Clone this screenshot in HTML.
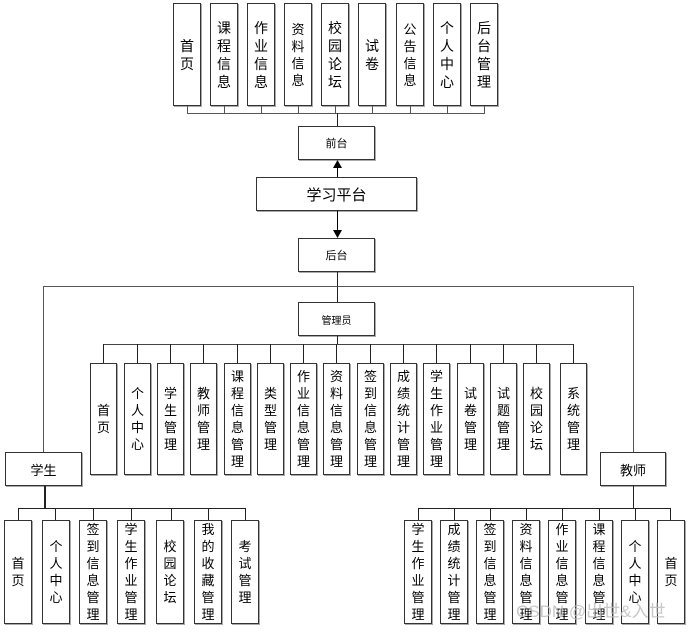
<!DOCTYPE html>
<html><head><meta charset="utf-8">
<style>
body{margin:0;background:#fff;}
#c{position:relative;width:692px;height:632px;overflow:hidden;background:#fff;font-family:"Liberation Sans","Noto Sans CJK SC","WenQuanYi Zen Hei",sans-serif;color:#000;}
.b{position:absolute;box-sizing:border-box;border:1px solid #333;background:#fff;box-shadow:1px 1px 0 #aaa;display:flex;align-items:center;justify-content:center;text-align:center;}
.v{font-size:14px;line-height:18px;}
.a{font-size:13px;line-height:17px;}
.h{position:absolute;height:1px;background:#222;}
.l{position:absolute;width:1px;background:#222;}
</style></head><body><div id="c">

<!-- top boxes -->
<div class="b v" style="left:173px;top:3px;width:28px;height:103px">首<br>页</div>
<div class="b v" style="left:210px;top:3px;width:28px;height:103px">课<br>程<br>信<br>息</div>
<div class="b v" style="left:247px;top:3px;width:28px;height:103px">作<br>业<br>信<br>息</div>
<div class="b v" style="left:284px;top:3px;width:28px;height:103px;font-size:13px;line-height:17px">资<br>料<br>信<br>息</div>
<div class="b v" style="left:321px;top:3px;width:28px;height:103px">校<br>园<br>论<br>坛</div>
<div class="b v" style="left:358px;top:3px;width:28px;height:103px">试<br>卷</div>
<div class="b v" style="left:396px;top:3px;width:28px;height:103px;font-size:13px;line-height:17px">公<br>告<br>信<br>息</div>
<div class="b v" style="left:433px;top:3px;width:28px;height:103px">个<br>人<br>中<br>心</div>
<div class="b v" style="left:470px;top:3px;width:28px;height:103px">后<br>台<br>管<br>理</div>
<div class="h" style="left:187px;top:113px;width:298px;background:#555"></div>
<div class="l" style="left:187px;top:106px;height:7px;background:#555"></div>
<div class="l" style="left:224px;top:106px;height:7px;background:#555"></div>
<div class="l" style="left:261px;top:106px;height:7px;background:#555"></div>
<div class="l" style="left:298px;top:106px;height:7px;background:#555"></div>
<div class="l" style="left:335px;top:106px;height:7px;background:#555"></div>
<div class="l" style="left:372px;top:106px;height:7px;background:#555"></div>
<div class="l" style="left:410px;top:106px;height:7px;background:#555"></div>
<div class="l" style="left:447px;top:106px;height:7px;background:#555"></div>
<div class="l" style="left:484px;top:106px;height:7px;background:#555"></div>
<div class="l" style="left:337px;top:113px;height:13px"></div>

<div class="b" style="left:298px;top:126px;width:77px;height:34px;font-size:11px">前台</div>
<div class="b" style="left:256px;top:177px;width:161px;height:34px;font-size:15px">学习平台</div>
<div class="b" style="left:298px;top:238px;width:77px;height:34px;font-size:11px">后台</div>
<svg style="position:absolute;left:0;top:0" width="692" height="632">
<line x1="337.5" y1="177" x2="337.5" y2="164" stroke="#000"/>
<polygon points="333,168 342,168 337.5,160" fill="#000"/>
<line x1="337.5" y1="211" x2="337.5" y2="233" stroke="#000"/>
<polygon points="333,230 342,230 337.5,238" fill="#000"/>
</svg>
<div class="l" style="left:337px;top:272px;height:30px"></div>
<div class="h" style="left:43px;top:286px;width:591px;background:#555"></div>
<div class="l" style="left:43px;top:286px;height:166px;background:#555"></div>
<div class="l" style="left:633px;top:286px;height:166px;background:#555"></div>

<div class="b" style="left:298px;top:302px;width:77px;height:34px;font-size:10px">管理员</div>
<div class="l" style="left:337px;top:336px;height:8px"></div>
<div class="h" style="left:103px;top:344px;width:471px;background:#444"></div>

<!-- admin boxes -->
<div class="l" style="left:103px;top:344px;height:19px"></div>
<div class="b a" style="left:90px;top:363px;width:27px;height:112px">首<br>页</div>
<div class="l" style="left:137px;top:344px;height:19px"></div>
<div class="b a" style="left:124px;top:363px;width:27px;height:112px">个<br>人<br>中<br>心</div>
<div class="l" style="left:170px;top:344px;height:19px"></div>
<div class="b a" style="left:157px;top:363px;width:27px;height:112px">学<br>生<br>管<br>理</div>
<div class="l" style="left:203px;top:344px;height:19px"></div>
<div class="b a" style="left:190px;top:363px;width:27px;height:112px">教<br>师<br>管<br>理</div>
<div class="l" style="left:237px;top:344px;height:19px"></div>
<div class="b a" style="left:224px;top:363px;width:27px;height:112px">课<br>程<br>信<br>息<br>管<br>理</div>
<div class="l" style="left:270px;top:344px;height:19px"></div>
<div class="b a" style="left:257px;top:363px;width:27px;height:112px">类<br>型<br>管<br>理</div>
<div class="l" style="left:303px;top:344px;height:19px"></div>
<div class="b a" style="left:290px;top:363px;width:27px;height:112px">作<br>业<br>信<br>息<br>管<br>理</div>
<div class="l" style="left:336px;top:344px;height:19px"></div>
<div class="b a" style="left:323px;top:363px;width:27px;height:112px">资<br>料<br>信<br>息<br>管<br>理</div>
<div class="l" style="left:370px;top:344px;height:19px"></div>
<div class="b a" style="left:357px;top:363px;width:27px;height:112px">签<br>到<br>信<br>息<br>管<br>理</div>
<div class="l" style="left:403px;top:344px;height:19px"></div>
<div class="b a" style="left:390px;top:363px;width:27px;height:112px">成<br>绩<br>统<br>计<br>管<br>理</div>
<div class="l" style="left:436px;top:344px;height:19px"></div>
<div class="b a" style="left:423px;top:363px;width:27px;height:112px">学<br>生<br>作<br>业<br>管<br>理</div>
<div class="l" style="left:470px;top:344px;height:19px"></div>
<div class="b a" style="left:457px;top:363px;width:27px;height:112px">试<br>卷<br>管<br>理</div>
<div class="l" style="left:503px;top:344px;height:19px"></div>
<div class="b a" style="left:490px;top:363px;width:27px;height:112px">试<br>题<br>管<br>理</div>
<div class="l" style="left:536px;top:344px;height:19px"></div>
<div class="b a" style="left:523px;top:363px;width:27px;height:112px">校<br>园<br>论<br>坛</div>
<div class="l" style="left:573px;top:344px;height:19px"></div>
<div class="b a" style="left:560px;top:363px;width:27px;height:112px">系<br>统<br>管<br>理</div>

<!-- student -->
<div class="b" style="left:5px;top:452px;width:77px;height:34px;font-size:13px">学生</div>
<div class="l" style="left:44px;top:486px;height:22px;width:2px"></div>
<div class="h" style="left:18px;top:508px;width:228px"></div>
<div class="l" style="left:18px;top:508px;height:12px"></div>
<div class="b a" style="left:4px;top:520px;width:28px;height:104px">首<br>页</div>
<div class="l" style="left:55px;top:508px;height:12px"></div>
<div class="b a" style="left:42px;top:520px;width:28px;height:104px">个<br>人<br>中<br>心</div>
<div class="l" style="left:93px;top:508px;height:12px"></div>
<div class="b a" style="left:79px;top:520px;width:28px;height:104px">签<br>到<br>信<br>息<br>管<br>理</div>
<div class="l" style="left:131px;top:508px;height:12px"></div>
<div class="b a" style="left:117px;top:520px;width:28px;height:104px">学<br>生<br>作<br>业<br>管<br>理</div>
<div class="l" style="left:171px;top:508px;height:12px"></div>
<div class="b a" style="left:156px;top:520px;width:28px;height:104px">校<br>园<br>论<br>坛</div>
<div class="l" style="left:208px;top:508px;height:12px"></div>
<div class="b a" style="left:194px;top:520px;width:28px;height:104px">我<br>的<br>收<br>藏<br>管<br>理</div>
<div class="l" style="left:245px;top:508px;height:12px"></div>
<div class="b a" style="left:231px;top:520px;width:28px;height:104px">考<br>试<br>管<br>理</div>

<!-- teacher -->
<div class="b" style="left:600px;top:452px;width:66px;height:34px;font-size:13px">教师</div>
<div class="l" style="left:633px;top:486px;height:22px"></div>
<div class="h" style="left:418px;top:508px;width:253px"></div>
<div class="l" style="left:418px;top:508px;height:12px"></div>
<div class="b a" style="left:404px;top:520px;width:28px;height:104px">学<br>生<br>作<br>业<br>管<br>理</div>
<div class="l" style="left:454px;top:508px;height:12px"></div>
<div class="b a" style="left:440px;top:520px;width:28px;height:104px">成<br>绩<br>统<br>计<br>管<br>理</div>
<div class="l" style="left:490px;top:508px;height:12px"></div>
<div class="b a" style="left:476px;top:520px;width:28px;height:104px">签<br>到<br>信<br>息<br>管<br>理</div>
<div class="l" style="left:526px;top:508px;height:12px"></div>
<div class="b a" style="left:512px;top:520px;width:28px;height:104px">资<br>料<br>信<br>息<br>管<br>理</div>
<div class="l" style="left:562px;top:508px;height:12px"></div>
<div class="b a" style="left:548px;top:520px;width:28px;height:104px">作<br>业<br>信<br>息<br>管<br>理</div>
<div class="l" style="left:599px;top:508px;height:12px"></div>
<div class="b a" style="left:585px;top:520px;width:28px;height:104px">课<br>程<br>信<br>息<br>管<br>理</div>
<div class="l" style="left:635px;top:508px;height:12px"></div>
<div class="b a" style="left:621px;top:520px;width:28px;height:104px">个<br>人<br>中<br>心</div>
<div class="l" style="left:670px;top:508px;height:12px"></div>
<div class="b a" style="left:657px;top:520px;width:28px;height:104px">首<br>页</div>

<div style="position:absolute;left:516px;top:597px;font-size:17px;color:rgba(190,190,190,0.85);white-space:nowrap;">CSDN @出世&amp;入世</div>
</div></body></html>
